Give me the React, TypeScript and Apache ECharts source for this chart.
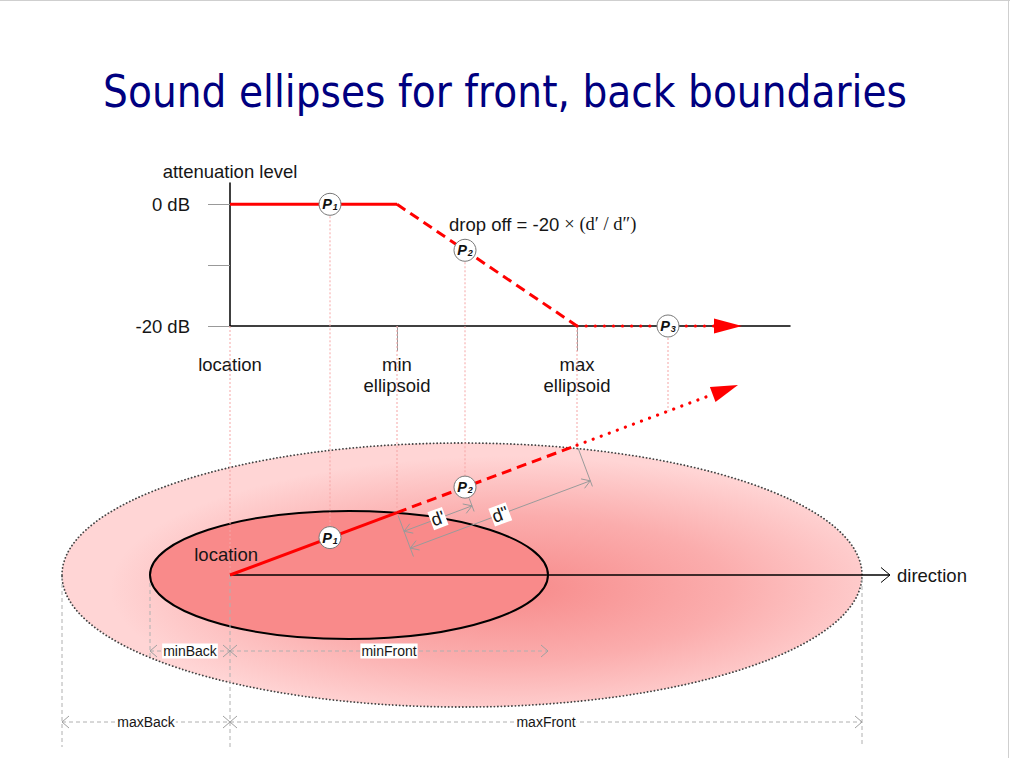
import React, { useEffect, useRef } from 'react';
import * as echarts from 'echarts';

// ---------- texts ----------
const TITLE = 'Sound ellipses for front, back boundaries';
const FORMULA_SANS = 'drop off = -20 ';
const FORMULA_SERIF = '× (d′ / d″)';
const Y_NAME = 'attenuation level';
const DIRECTION = 'direction';
const LOCATION = 'location';

// ---------- attenuation profile (x: ground distance from location, y: dB) ----------
const profileDist = [0, 167, 347, 512];
const profileDb = [0, 0, -20, -20];
const dbTickValues = [-20, -10, 0];
const dbLabelValues = [-20, 0];
const markerNames = ['location', 'min\nellipsoid', 'max\nellipsoid'];
const markerDist = [0, 167, 347];

// ---------- probes P1..P3 ----------
const probeNames = ['1', '2', '3'];
const probeDist = [100, 235, 438];

// ---------- sound ellipses (ground plane, location at origin) ----------
const ellipseNames = ['max', 'min'];
const ellipseBack = [168, 80];
const ellipseFront = [632, 318];
const ellipseHalfWidth = [132, 64];

// ---------- ray / direction ----------
const raySlope = 0.374;
const rayEnd = 508;
const directionEnd = 660;

// ---------- dimensions ----------
const dimNames = ['minBack', 'minFront', 'maxBack', 'maxFront'];
const dimRowLevel = [-76, -76, -147, -147];
const extensionTop = [-2, -8, 0, -4];
const extensionBottom = [-172, -84, -172, -172];
const rayDimNames = ["d'", 'd"'];
const rayDimFrom = [167, 167];
const rayDimTo = [235, 347];
const rayDimOffset = [20, 38];
const rayExtDist = [167, 235, 347];
const rayExtFrom = [3, 12, 3];
const rayExtTo = [47, 26, 44];

const SANS = 'Liberation Sans, Arial, sans-serif';
const TEXT = '#161616';
const RED = '#ff0000';
const FS = 18.5;

function profileAt(d: number): number {
  for (let i = 0; i < profileDist.length - 1; i++) {
    const a = profileDist[i], b = profileDist[i + 1];
    if (d >= a && d <= b) return profileDb[i] + (profileDb[i + 1] - profileDb[i]) * (d - a) / (b - a);
  }
  return profileDb[profileDb.length - 1];
}

const norm = Math.sqrt(1 + raySlope * raySlope);
const perp = [raySlope / norm, -1 / norm];
function rayPoint(d: number, off: number): number[] {
  return [d + off * perp[0], raySlope * d + off * perp[1]];
}

interface SegOpt {
  color: string; width: number; dash?: number[]; cap?: string;
  head?: 'none' | 'tri' | 'open'; both?: boolean; headLen?: number; headHalf?: number; headColor?: string;
  labels?: string[]; labelSize?: number; labelAt?: 'mid' | 'end'; labelGap?: number; labelBg?: string;
}

function segmentRenderer(o: SegOpt) {
  return (params: any, api: any) => {
    const p1 = api.coord([api.value(0), api.value(1)]);
    const p2 = api.coord([api.value(2), api.value(3)]);
    const dx = p2[0] - p1[0], dy = p2[1] - p1[1];
    const len = Math.hypot(dx, dy) || 1;
    const ux = dx / len, uy = dy / len;
    const nx = -uy, ny = ux;
    const L = o.headLen ?? 8, H = o.headHalf ?? 5;
    const children: any[] = [];
    let q2 = p2;
    if (o.head === 'tri') q2 = [p2[0] - ux * L, p2[1] - uy * L];
    children.push({
      type: 'line',
      shape: { x1: p1[0], y1: p1[1], x2: q2[0], y2: q2[1] },
      style: { stroke: o.color, lineWidth: o.width, lineDash: o.dash || null, lineCap: o.cap || 'butt', fill: null },
    });
    if (o.head === 'tri') {
      children.push({
        type: 'polygon',
        shape: { points: [[p2[0], p2[1]], [q2[0] + nx * H, q2[1] + ny * H], [q2[0] - nx * H, q2[1] - ny * H]] },
        style: { fill: o.color },
      });
    }
    const openHead = (t: number[], sx: number, sy: number) => {
      const mx = -sy, my = sx;
      return {
        type: 'polyline',
        shape: { points: [[t[0] - sx * L + mx * H, t[1] - sy * L + my * H], [t[0], t[1]], [t[0] - sx * L - mx * H, t[1] - sy * L - my * H]] },
        style: { stroke: o.headColor || o.color, lineWidth: 1, fill: null },
      };
    };
    if (o.head === 'open') {
      children.push(openHead(p2, ux, uy));
      if (o.both) children.push(openHead(p1, -ux, -uy));
    }
    if (o.labels) {
      const text = o.labels[params.dataIndex];
      if (o.labelAt === 'end') {
        children.push({
          type: 'text', x: p2[0] + ux * (o.labelGap ?? 6), y: p2[1] + uy * (o.labelGap ?? 6),
          style: { text, fill: TEXT, fontSize: o.labelSize ?? FS, fontFamily: SANS, align: 'left', verticalAlign: 'middle' },
        });
      } else {
        children.push({
          type: 'text', x: (p1[0] + p2[0]) / 2, y: (p1[1] + p2[1]) / 2, rotation: -Math.atan2(dy, dx),
          style: {
            text, fill: TEXT, fontSize: o.labelSize ?? 14, fontFamily: SANS, align: 'center', verticalAlign: 'middle',
            backgroundColor: o.labelBg || '#fff', padding: [1, 1, 0, 1],
          },
        });
      }
    }
    return { type: 'group', children };
  };
}

function pLabel(i: number) {
  return `{p|P}{s|${probeNames[i]}}`;
}
const pRich = {
  p: { fontFamily: SANS, fontWeight: 'bold', fontStyle: 'italic', fontSize: 14.5, color: '#111', lineHeight: 15, verticalAlign: 'bottom' },
  s: { fontFamily: SANS, fontWeight: 'bold', fontStyle: 'italic', fontSize: 9, color: '#111', lineHeight: 15, verticalAlign: 'bottom', padding: [0, 0, 0, 1] },
};

function buildOption(): any {
  const profileSegs = profileDist.slice(0, -1).map((d, i) => [d, profileDb[i], profileDist[i + 1], profileDb[i + 1]]);
  const rayBreaks = [0, markerDist[1], markerDist[2], rayEnd];
  const raySegs = rayBreaks.slice(0, -1).map((d, i) => [d, raySlope * d, rayBreaks[i + 1], raySlope * rayBreaks[i + 1]]);
  const dimStart = [-ellipseBack[1], 0, -ellipseBack[0], 0];
  const dimEnd = [0, ellipseFront[1], 0, ellipseFront[0]];
  const dimData = dimNames.map((_, i) => [dimStart[i], dimRowLevel[i], dimEnd[i], dimRowLevel[i]]);
  const extensionX = [-ellipseBack[0], -ellipseBack[1], 0, ellipseFront[0]];
  const extData = extensionX.map((x, i) => [x, extensionTop[i], x, extensionBottom[i]]);
  const rayDimData = rayDimNames.map((_, i) => {
    const a = rayPoint(rayDimFrom[i], rayDimOffset[i]);
    const b = rayPoint(rayDimTo[i], rayDimOffset[i]);
    return [a[0], a[1], b[0], b[1]];
  });
  const rayExtData = rayExtDist.map((d, i) => {
    const a = rayPoint(d, rayExtFrom[i]);
    const b = rayPoint(d, rayExtTo[i]);
    return [a[0], a[1], b[0], b[1]];
  });
  const ellipseData = ellipseNames.map((_, i) => [
    (ellipseFront[i] - ellipseBack[i]) / 2, 0, (ellipseFront[i] + ellipseBack[i]) / 2, ellipseHalfWidth[i],
  ]);

  const A = { xAxisIndex: 0, yAxisIndex: 0 };
  const B = { xAxisIndex: 1, yAxisIndex: 1 };

  return {
    animation: false,
    backgroundColor: '#ffffff',
    textStyle: { fontFamily: SANS },
    grid: [
      { left: 230, top: 183, width: 560, height: 143 },
      { left: 0, top: 440, width: 1010, height: 318 },
    ],
    xAxis: [
      {
        type: 'value', gridIndex: 0, min: 0, max: 560,
        splitLine: { show: false },
        axisLine: { onZero: false, lineStyle: { color: '#000', width: 1.5 } },
        axisTick: { show: true, customValues: markerDist.slice(1), length: 25, lineStyle: { color: '#999', width: 1 } },
        axisLabel: {
          customValues: markerDist, margin: 28, fontSize: FS, lineHeight: 21, color: TEXT, fontFamily: SANS,
          formatter: (v: number) => markerNames[markerDist.indexOf(v)] ?? '',
        },
      },
      { type: 'value', gridIndex: 1, min: -230, max: 780, show: false },
    ],
    yAxis: [
      {
        type: 'value', gridIndex: 0, min: -20, max: 3.5,
        splitLine: { show: false },
        axisLine: { show: true, lineStyle: { color: '#000', width: 1.5 } },
        axisTick: { show: true, customValues: dbTickValues, length: 22, lineStyle: { color: '#999', width: 1 } },
        axisLabel: {
          customValues: dbLabelValues, margin: 40, fontSize: FS, color: TEXT, fontFamily: SANS,
          formatter: (v: number) => `${v} dB`,
        },
        name: Y_NAME, nameLocation: 'end', nameGap: 2,
        nameTextStyle: { fontSize: FS, color: TEXT, fontFamily: SANS },
      },
      { type: 'value', gridIndex: 1, min: -183, max: 135, show: false },
    ],
    series: [
      {
        type: 'custom', name: 'ellipses', ...B, z: 0, data: ellipseData,
        renderItem: (params: any, api: any) => {
          const c = api.coord([api.value(0), api.value(1)]);
          const sz = api.size([api.value(2), api.value(3)]);
          const rx = sz[0], ry = sz[1];
          if (params.dataIndex === 0) {
            return {
              type: 'group',
              children: [
                {
                  type: 'circle', x: c[0], y: c[1], scaleY: ry / rx, shape: { cx: 0, cy: 0, r: rx },
                  style: {
                    fill: new echarts.graphic.RadialGradient(0.56, 0.55, 0.5, [
                      { offset: 0, color: '#f78a8a' },
                      { offset: 0.55, color: '#fbadad' },
                      { offset: 1, color: '#ffd5d5' },
                    ]),
                  },
                },
                {
                  type: 'ellipse', shape: { cx: c[0], cy: c[1], rx, ry },
                  style: { fill: null, stroke: '#444', lineWidth: 1.8, lineDash: [0.1, 3.4], lineCap: 'round' },
                },
              ],
            };
          }
          return {
            type: 'ellipse', shape: { cx: c[0], cy: c[1], rx, ry },
            style: { fill: '#f98a8a', stroke: '#000', lineWidth: 2 },
          };
        },
      },
      // attenuation profile
      { type: 'custom', name: 'profile flat', ...A, z: 3, data: [profileSegs[0]], renderItem: segmentRenderer({ color: RED, width: 3 }) },
      { type: 'custom', name: 'profile drop', ...A, z: 3, data: [profileSegs[1]], renderItem: segmentRenderer({ color: RED, width: 3, dash: [10, 6] }) },
      {
        type: 'custom', name: 'profile tail', ...A, z: 3, data: [profileSegs[2]],
        renderItem: segmentRenderer({ color: RED, width: 3.2, dash: [0.1, 9], cap: 'round', head: 'tri', headLen: 28, headHalf: 7.5 }),
      },
      // ground plane annotations
      {
        type: 'custom', name: 'extensions', ...B, z: 2, data: extData,
        renderItem: segmentRenderer({ color: '#b0b0b0', width: 1, dash: [4, 3] }),
      },
      {
        type: 'custom', name: 'dimensions', ...B, z: 2, data: dimData,
        renderItem: segmentRenderer({ color: '#b0b0b0', width: 1, dash: [4, 3], head: 'open', both: true, headLen: 7, headHalf: 6, headColor: '#a0a0a0', labels: dimNames, labelSize: 14 }),
      },
      {
        type: 'custom', name: 'ray extensions', ...B, z: 2, data: rayExtData,
        renderItem: segmentRenderer({ color: '#9a9a9a', width: 1 }),
      },
      {
        type: 'custom', name: 'ray dimensions', ...B, z: 2, data: rayDimData,
        renderItem: segmentRenderer({ color: '#9a9a9a', width: 1, head: 'open', both: true, headLen: 8, headHalf: 5, labels: rayDimNames, labelSize: 18 }),
      },
      {
        type: 'custom', name: 'direction', ...B, z: 3, data: [[0, 0, directionEnd, 0]],
        renderItem: segmentRenderer({ color: '#000', width: 1.5, head: 'open', headLen: 9, headHalf: 7.5, labels: [DIRECTION], labelAt: 'end', labelGap: 7, labelSize: FS }),
      },
      { type: 'custom', name: 'ray solid', ...B, z: 3, data: [raySegs[0]], renderItem: segmentRenderer({ color: RED, width: 3 }) },
      { type: 'custom', name: 'ray dashed', ...B, z: 3, data: [raySegs[1]], renderItem: segmentRenderer({ color: RED, width: 3, dash: [10, 6] }) },
      {
        type: 'custom', name: 'ray tail', ...B, z: 3, data: [raySegs[2]],
        renderItem: segmentRenderer({ color: RED, width: 3.2, dash: [0.1, 8.5], cap: 'round', head: 'tri', headLen: 27, headHalf: 8 }),
      },
      // probes
      {
        type: 'scatter', name: 'probes top', ...A, z: 6, symbol: 'circle', symbolSize: 22,
        data: probeDist.map((d) => [d, profileAt(d)]),
        itemStyle: { color: '#fff', borderColor: '#777', borderWidth: 1, opacity: 1 },
        label: { show: true, position: 'inside', formatter: (p: any) => pLabel(p.dataIndex), rich: pRich },
      },
      {
        type: 'scatter', name: 'probes ground', ...B, z: 6, symbol: 'circle', symbolSize: 22,
        data: probeDist.map((d) => [d, raySlope * d]),
        itemStyle: { color: '#fff', borderColor: '#777', borderWidth: 1, opacity: 1 },
        label: { show: true, position: 'inside', formatter: (p: any) => pLabel(p.dataIndex), rich: pRich },
      },
    ],
  };
}

function buildGraphics(chart: any): any[] {
  const toA = (p: number[]) => chart.convertToPixel({ xAxisIndex: 0, yAxisIndex: 0 }, p);
  const toB = (p: number[]) => chart.convertToPixel({ xAxisIndex: 1, yAxisIndex: 1 }, p);
  const stops = [
    ...markerDist.map((d) => ({ d, db: profileDb[profileDb.length - 1] })),
    ...probeDist.map((d) => ({ d, db: profileAt(d) })),
  ];
  const connectors = stops.map((s, i) => {
    const t = toA([s.d, s.db]);
    const b = toB([s.d, raySlope * s.d]);
    return {
      type: 'line', id: `conn${i}`, z: 1,
      shape: { x1: t[0], y1: t[1], x2: b[0], y2: b[1] },
      style: { stroke: '#f5a5a5', lineWidth: 1, lineDash: [2, 2] },
    };
  });
  const loc = toB([0, 0]);
  const dropMid = toA([profileDist[1], profileDb[1]]);
  return [
    { type: 'line', id: 'frameTop', shape: { x1: 0, y1: 0.5, x2: 1010, y2: 0.5 }, style: { stroke: '#cfcfcf', lineWidth: 1 } },
    { type: 'line', id: 'frameRight', shape: { x1: 1008.5, y1: 0, x2: 1008.5, y2: 758 }, style: { stroke: '#cfcfcf', lineWidth: 1 } },
    {
      type: 'text', id: 'title', x: 505, y: 92, scaleX: 0.871, z: 10,
      style: { text: TITLE, fill: '#000080', fontSize: 45, fontFamily: 'DejaVu Sans, Verdana, sans-serif', align: 'center', verticalAlign: 'middle' },
    },
    {
      type: 'text', id: 'formula', x: dropMid[0] + 52, y: dropMid[1] + 20, z: 10,
      style: {
        text: `{a|${FORMULA_SANS}}{b|${FORMULA_SERIF}}`, verticalAlign: 'middle', align: 'left',
        rich: {
          a: { fontFamily: SANS, fontSize: FS, fill: TEXT },
          b: { fontFamily: 'Liberation Serif, Times New Roman, serif', fontSize: FS, fill: TEXT },
        },
      },
    },
    {
      type: 'text', id: 'locLabel', x: loc[0] + 28, y: loc[1] - 21, z: 10,
      style: { text: LOCATION, fill: TEXT, fontSize: FS, fontFamily: SANS, align: 'right', verticalAlign: 'middle' },
    },
    ...connectors,
  ];
}

export default function App() {
  const ref = useRef<HTMLDivElement>(null);
  useEffect(() => {
    const el = ref.current;
    if (!el) return;
    const chart = echarts.init(el, null, { renderer: 'svg', width: 1010, height: 758 });
    chart.setOption(buildOption());
    chart.setOption({ graphic: { elements: buildGraphics(chart) } });
    return () => chart.dispose();
  }, []);
  return (
    <div
      ref={ref}
      style={{ position: 'absolute', left: 0, top: 0, width: 1010, height: 758, background: '#fff' }}
    />
  );
}
